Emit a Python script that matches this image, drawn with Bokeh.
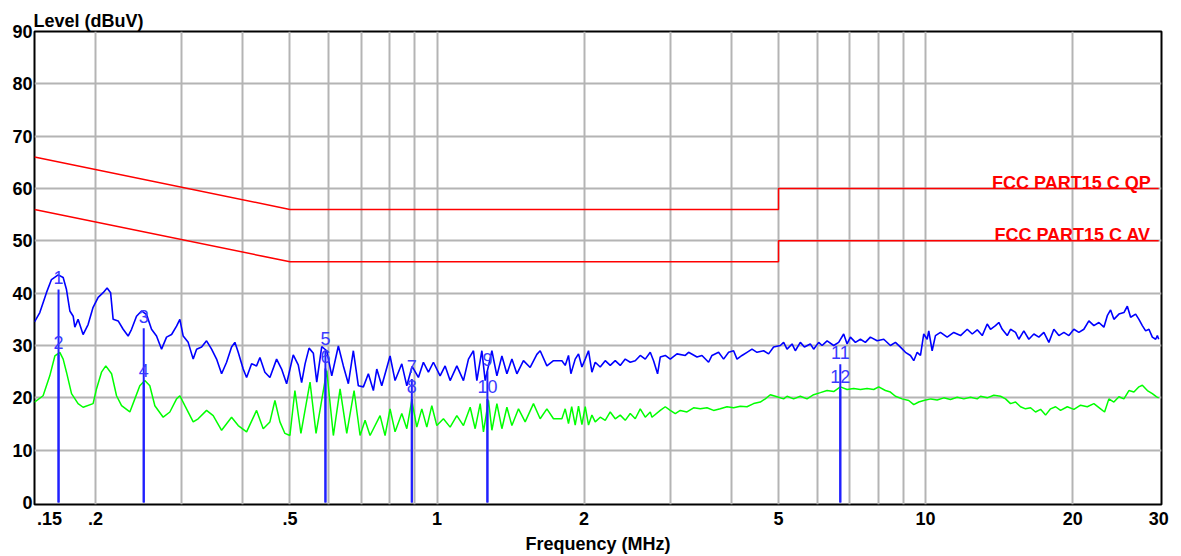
from bokeh.plotting import figure
from bokeh.models import FixedTicker, Range1d, CustomJSTickFormatter
from bokeh.embed import file_html
from bokeh.resources import INLINE
from bokeh.core.properties import value

# ---------------- data ----------------
x_ticks = [0.15, 0.2, 0.5, 1, 2, 5, 10, 20, 30]
x_tick_labels = ["\u00a0\u00a0\u00a0\u00a0\u00a0\u00a0.15", ".2", ".5", "1", "2", "5", "10", "20", "30"]
x_grid = [0.2, 0.3, 0.4, 0.5, 0.6, 0.7, 0.8, 0.9, 1, 2, 3, 4, 5, 6, 7, 8, 9, 10, 20]
y_ticks = [0, 10, 20, 30, 40, 50, 60, 70, 80, 90]
y_grid = [10, 20, 30, 40, 50, 60, 70, 80]

qp_limit_f = [0.15, 0.5, 0.5, 5, 5, 30]
qp_limit_v = [66, 56, 56, 56, 60, 60]
av_limit_f = [0.15, 0.5, 0.5, 5, 5, 30]
av_limit_v = [56, 46, 46, 46, 50, 50]
limit_names = ["FCC PART15 C QP", "FCC PART15 C AV"]
limit_label_f = [28.9, 28.9]
limit_label_v = [60, 50]

blue_f = [0.150, 0.1538, 0.1587, 0.1625, 0.1677, 0.1717, 0.1744, 0.1772, 0.1800, 0.1814,
          0.1842, 0.1886, 0.1931, 0.1977, 0.2025, 0.2073, 0.2112, 0.2147, 0.2173, 0.2225,
          0.2278, 0.2332, 0.2370, 0.2426, 0.2484, 0.2544, 0.2604, 0.2666, 0.2730, 0.2795,
          0.2862, 0.2930, 0.2976, 0.3023, 0.3095, 0.3169, 0.3220, 0.3297, 0.3375, 0.3456,
          0.3538, 0.3623, 0.3709, 0.3797, 0.3857, 0.3918, 0.4011, 0.4076, 0.4173, 0.4272,
          0.4340, 0.4443, 0.4549, 0.4695, 0.4807, 0.4922, 0.5078, 0.5199, 0.5283, 0.5369,
          0.5471, 0.5583, 0.5673, 0.5808, 0.5947, 0.6089, 0.6281, 0.6431, 0.6584, 0.6741,
          0.6902, 0.7067, 0.7235, 0.7408, 0.7528, 0.7707, 0.8015, 0.8206, 0.8470, 0.8672,
          0.8891, 0.9159, 0.9378, 0.9602, 0.9831, 1.0147, 1.0389, 1.0637, 1.0979, 1.1326,
          1.1597, 1.1873, 1.2065, 1.2353, 1.2547, 1.2951, 1.3260, 1.3576, 1.3900, 1.4232,
          1.4571, 1.5028, 1.5511, 1.6008, 1.6260, 1.6782, 1.7313,
          1.8013, 1.8295, 1.8582, 1.8794, 1.9179, 1.9480, 1.9795, 2.0106, 2.0421, 2.0751,
          2.1077, 2.1579, 2.2094, 2.2622, 2.3160, 2.3714, 2.4279, 2.4859, 2.5452, 2.6060,
          2.6681, 2.7318, 2.7747, 2.8275, 2.8637, 2.9321, 3.0018, 3.0983, 3.2219, 3.2724,
          3.4049, 3.4860, 3.5960, 3.6541, 3.7697, 3.8598, 3.9521, 4.0460, 4.1115, 4.2095,
          4.3098, 4.4127, 4.5178, 4.6610, 4.7721, 4.8860, 5.0429, 5.1219, 5.205, 5.330,
          5.412, 5.5413, 5.649, 5.8086, 5.900, 6.042, 6.140, 6.286, 6.4845, 6.639,
          6.7974, 6.908, 7.016, 7.184, 7.356, 7.529, 7.708, 7.958, 8.211, 8.4725,
          8.675, 8.882, 9.0941, 9.312, 9.4574, 9.611, 9.762, 9.9141, 10.074, 10.151,
          10.314, 10.476, 10.726, 11.071, 11.420, 11.790, 12.168, 12.460, 12.756, 13.061,
          13.370, 13.580, 13.904, 14.122, 14.352, 14.693, 14.922, 15.279, 15.519, 15.888,
          16.268, 16.658, 17.055, 17.462, 17.879, 18.306, 18.743, 19.190, 19.647, 20.115,
          20.595, 21.086, 21.588, 22.104, 22.631, 23.172, 23.547, 23.916, 24.291, 24.871,
          25.464, 25.877, 26.283, 26.910, 27.333, 27.774, 28.211, 28.654, 29.115, 29.574,
          29.81, 30.0]
blue_v = [34.5, 36.3, 40.1, 42.6, 43.5, 43.0, 40.7, 36.6, 35.6, 33.5,
          35.0, 32.1, 34.0, 37.3, 39.2, 40.1, 41.0, 40.1, 35.0, 34.7,
          33.1, 31.8, 33.1, 35.6, 36.6, 35.9, 33.1, 31.8, 29.3, 31.6,
          32.1, 33.7, 35.0, 31.8, 30.6, 27.4, 29.3, 29.7, 30.9, 29.3,
          27.4, 24.6, 26.8, 29.7, 30.6, 28.7, 25.5, 23.9, 26.5, 26.1,
          27.7, 24.9, 23.9, 27.4, 25.5, 22.7, 28.2, 26.3, 22.9, 26.5,
          29.5, 28.5, 23.0, 29.8, 29.0, 24.2, 29.9, 26.1, 22.7, 29.0,
          22.3, 22.1, 24.6, 21.4, 25.5, 22.3, 28.0, 23.3, 26.5, 22.3,
          26.0, 23.9, 26.8, 24.9, 26.8, 24.2, 26.1, 23.3, 26.1, 23.3,
          27.4, 29.0, 23.3, 29.0, 23.3, 29.0, 24.2, 28.0, 24.6, 27.4,
          24.6, 27.1, 25.8, 28.3, 29.0, 26.1, 27.1,
          27.1, 26.2, 28.1, 24.6, 27.4, 28.4, 25.9, 27.4, 29.0, 24.9,
          26.8, 25.9, 27.1, 26.2, 27.1, 26.2, 27.4, 26.8, 27.1, 28.1,
          27.4, 28.7, 27.1, 24.6, 27.8, 28.1, 27.4, 28.4, 28.1, 28.7,
          27.8, 28.1, 26.8, 28.1, 28.7, 27.4, 28.7, 29.0, 27.4, 28.1,
          28.7, 29.3, 28.7, 29.0, 28.4, 29.7, 30.0, 30.6, 29.3, 30.3,
          29.0, 30.6, 29.7, 30.3, 29.3, 30.6, 30.0, 30.9, 30.0, 30.6,
          32.2, 30.3, 31.6, 30.6, 31.2, 30.6, 31.6, 30.9, 31.2, 30.0,
          30.6, 29.7, 28.7, 28.1, 27.1, 28.7, 28.1, 32.2, 31.2, 32.8,
          29.0, 31.9, 32.5, 31.6, 32.5, 31.9, 33.1, 32.2, 33.0, 31.9,
          34.1, 33.1, 33.8, 34.4, 33.1, 31.9, 33.1, 32.5, 31.2, 32.8,
          31.2, 32.2, 31.6, 32.5, 30.6, 33.1, 31.9, 32.5, 31.9, 33.1,
          32.5, 33.1, 34.7, 33.8, 34.4, 33.5, 35.7, 36.8, 35.0, 36.0,
          36.3, 37.5, 35.4, 36.0, 35.0, 33.8, 32.8, 33.1, 31.6, 31.2,
          31.9, 31.2]

green_f = [0.150, 0.1562, 0.1612, 0.1651, 0.1690, 0.1717, 0.1744, 0.1786, 0.1842, 0.1886,
           0.1977, 0.2009, 0.2057, 0.2099, 0.2157, 0.2208, 0.2261, 0.2351, 0.2407, 0.2464,
           0.2523, 0.2583, 0.2645, 0.2751, 0.2839, 0.2930, 0.2976, 0.3047, 0.3169, 0.3244,
           0.3375, 0.3482, 0.3623, 0.3797, 0.3918, 0.4076, 0.4272, 0.4408, 0.4549, 0.4658,
           0.4769, 0.4883, 0.4999, 0.5118, 0.5265, 0.5496, 0.5654, 0.5947, 0.6135, 0.6332,
           0.6535, 0.6764, 0.6958, 0.7124, 0.7293, 0.7646, 0.7828, 0.8015, 0.8206, 0.8470,
           0.8672, 0.8879, 0.9091, 0.9308, 0.9530, 0.9757, 0.9990, 1.0306, 1.0637, 1.0979,
           1.1326, 1.1690, 1.1969, 1.2255, 1.2447, 1.2744, 1.2951, 1.3260, 1.3576, 1.3900,
           1.4232, 1.4682, 1.5149, 1.5754, 1.6260, 1.6782, 1.7313,
           1.8013, 1.8295, 1.8582, 1.8864, 1.9179, 1.9480, 1.9795, 2.0106, 2.0421, 2.0751,
           2.1077, 2.1579, 2.2094, 2.2622, 2.3160, 2.3714, 2.4279, 2.4859, 2.5452, 2.6060,
           2.6681, 2.7318, 2.7537, 2.8637, 2.9321, 3.0018, 3.0735, 3.1470, 3.2478, 3.3506,
           3.4583, 3.5690, 3.6821, 3.7996, 3.9222, 4.0460, 4.1758, 4.3098, 4.4461, 4.5890,
           4.6983, 4.8107, 4.9651, 5.1219, 5.205, 5.3688, 5.5413, 5.7189, 5.900, 6.0902,
           6.286, 6.4845, 6.6924, 6.908, 7.1253, 7.356, 7.5891, 7.8315, 8.0178, 8.2755,
           8.4725, 8.675, 8.9535, 9.2370, 9.4574, 9.6831, 9.9141, 10.251, 10.561, 10.895,
           11.244, 11.607, 11.975, 12.361, 12.756, 12.956, 13.370, 13.793, 14.236, 14.576,
           14.922, 15.279, 15.643, 16.015, 16.400, 16.791, 17.192, 17.602, 18.022, 18.453,
           18.891, 19.500, 20.115, 20.760, 21.426, 22.104, 22.813, 23.247, 23.724, 24.291,
           24.871, 25.464, 26.073, 26.696, 27.333, 27.774, 28.440, 29.115, 29.71, 30.0]
green_v = [19.2, 20.4, 24.2, 28.0, 28.7, 27.4, 24.9, 20.8, 18.9, 18.2,
           18.9, 21.7, 24.9, 26.1, 24.6, 20.4, 18.5, 17.3, 19.8, 22.3,
           23.3, 22.3, 18.5, 16.3, 17.3, 19.8, 20.4, 18.5, 15.4, 16.0,
           17.6, 16.6, 13.8, 16.3, 14.7, 13.5, 17.6, 14.1, 15.4, 19.5,
           15.4, 13.2, 12.8, 21.4, 13.2, 23.0, 13.2, 25.2, 12.8, 21.7,
           13.2, 21.4, 12.8, 15.7, 12.8, 16.6, 12.8, 17.9, 13.5, 17.0,
           14.1, 19.5, 14.4, 17.9, 14.4, 18.5, 14.7, 16.0, 14.4, 16.6,
           14.7, 18.2, 14.1, 18.9, 13.5, 19.5, 13.8, 18.9, 14.1, 18.2,
           14.7, 17.9, 15.4, 18.9, 16.0, 17.9, 16.0,
           16.0, 17.9, 15.1, 18.3, 14.8, 18.4, 14.9, 18.3, 14.8, 16.7,
           15.4, 16.3, 15.7, 17.3, 16.0, 16.7, 15.7, 17.0, 16.0, 17.9,
           16.3, 17.3, 16.3, 17.6, 18.3, 17.6, 17.0, 17.6, 17.3, 18.1,
           17.9, 18.1, 17.6, 17.9, 18.3, 18.1, 18.4, 18.3, 18.9, 19.2,
           19.8, 20.6, 20.2, 19.8, 20.3, 19.8, 20.3, 19.8, 20.6, 21.0,
           21.4, 21.2, 22.1, 21.6, 21.8, 21.6, 21.8, 21.6, 22.1, 21.4,
           21.1, 20.3, 19.8, 19.5, 18.7, 19.2, 19.5, 19.8, 19.6, 20.0,
           19.7, 20.1, 19.8, 20.1, 19.8, 20.3, 20.0, 20.5, 20.3, 19.8,
           18.9, 19.2, 18.3, 17.9, 18.1, 17.3, 17.8, 16.7, 17.9, 18.3,
           17.6, 18.3, 17.8, 18.6, 18.3, 18.9, 17.9, 17.3, 19.8, 19.2,
           20.2, 19.8, 21.4, 21.1, 22.1, 22.4, 21.4, 20.8, 20.2, 20.0]

marker_ids = ["1", "2", "3", "4", "5", "6", "7", "8", "9", "10", "11", "12"]
marker_f = [0.168, 0.168, 0.251, 0.251, 0.591, 0.591, 0.888, 0.888, 1.268, 1.268, 6.69, 6.69]
marker_v = [40.7, 28.3, 33.3, 22.9, 29.0, 25.6, 23.6, 19.8, 25.1, 19.8, 26.4, 21.7]

# ---------------- figure ----------------
FONT = "Liberation Sans"

p = figure(width=1171, height=556, x_axis_type="log",
           x_range=Range1d(0.15, 30.4), y_range=Range1d(-0.38, 90),
           output_backend="svg", toolbar_location=None,
           min_border_left=34, min_border_right=10,
           min_border_top=31, min_border_bottom=50)

p.title.text = "Level (dBuV)"
p.title.text_font = FONT
p.title.text_font_size = "18px"
p.title.text_font_style = "bold"
p.title.text_color = "#000000"
p.title.align = "left"
p.title.standoff = 2
p.title.offset = -1

p.background_fill_color = "white"
p.border_fill_color = "white"
p.outline_line_color = "#000000"
p.outline_line_width = 2

p.xaxis.ticker = FixedTicker(ticks=x_ticks)
p.xaxis.formatter = CustomJSTickFormatter(
    args=dict(tvals=x_ticks, tlabels=x_tick_labels),
    code="""
const i = tvals.findIndex(t => Math.abs(t - tick) < 1e-6 * t);
return i >= 0 ? tlabels[i] : '';
""")
p.yaxis.ticker = FixedTicker(ticks=y_ticks)

for ax in (p.xaxis, p.yaxis):
    ax.axis_line_color = None
    ax.major_tick_line_color = None
    ax.minor_tick_line_color = None
    ax.major_tick_out = 0
    ax.major_tick_in = 0
    ax.minor_tick_out = 0
    ax.minor_tick_in = 0
    ax.major_label_text_font = FONT
    ax.major_label_text_font_size = "18px"
    ax.major_label_text_font_style = "bold"
    ax.major_label_text_color = "#000000"

p.xaxis.major_label_standoff = 4
p.yaxis.major_label_standoff = 2
p.xaxis.axis_label = "Frequency (MHz)"
p.xaxis.axis_label_text_font = FONT
p.xaxis.axis_label_text_font_size = "18px"
p.xaxis.axis_label_text_font_style = "bold"
p.xaxis.axis_label_text_color = "#000000"
p.xaxis.axis_label_standoff = 2

p.xgrid.ticker = FixedTicker(ticks=x_grid)
p.ygrid.ticker = FixedTicker(ticks=y_grid)
for g in (p.xgrid, p.ygrid):
    g.grid_line_color = "#b4b4b4"
    g.grid_line_width = 2

# limit lines
p.line(qp_limit_f, qp_limit_v, line_color="#ff0000", line_width=1.5)
p.line(av_limit_f, av_limit_v, line_color="#ff0000", line_width=1.5)
p.text(x=limit_label_f, y=[v + 1.1 for v in limit_label_v], text=limit_names,
       text_align="right", text_baseline="alphabetic",
       text_font=value(FONT), text_font_style="bold", text_font_size="18px",
       text_color="#ff0000")

# traces
p.line(green_f, green_v, line_color="#00ff00", line_width=1.5)
p.line(blue_f, blue_v, line_color="#0000ff", line_width=1.6)

# markers
p.segment(x0=marker_f, y0=[0] * len(marker_f), x1=marker_f, y1=marker_v,
          line_color="#2020ff", line_width=2)
p.text(x=marker_f, y=[v + 2.3 for v in marker_v], text=marker_ids,
       text_align="center", text_baseline="alphabetic",
       text_font=value(FONT), text_font_size="18px", text_color="#3a3aff")

open("out.html", "w").write(file_html(p, INLINE))
